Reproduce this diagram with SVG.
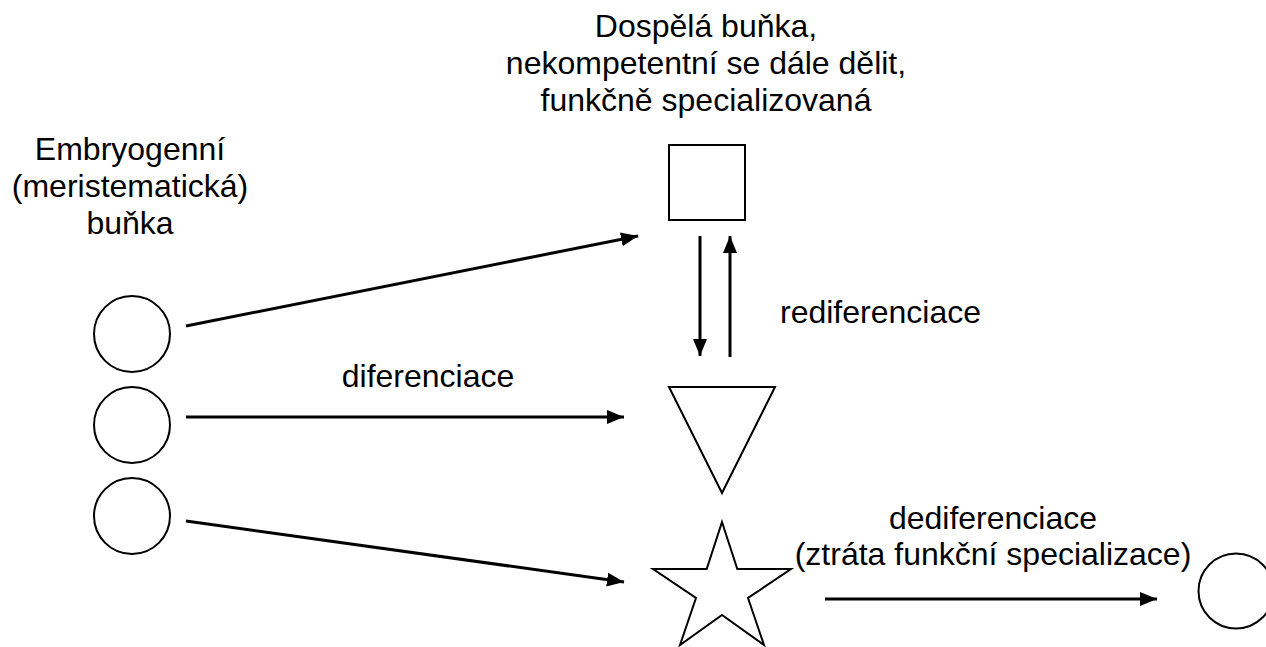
<svg xmlns="http://www.w3.org/2000/svg" width="1266" height="647" viewBox="0 0 1266 647">
<style>
.shape{fill:#fff;stroke:#000;stroke-width:2}
.conn{stroke:#000;stroke-width:3;fill:none;marker-end:url(#ah)}
text{font-family:"Liberation Sans",Arial,sans-serif;font-size:32px;fill:#000}
.m{text-anchor:middle}
</style>
<defs>
<marker id="ah" markerUnits="userSpaceOnUse" markerWidth="18" markerHeight="14" refX="17" refY="7" orient="auto">
<path d="M0,0 L17,7 L0,14 z" fill="#000"/>
</marker>
</defs>
<rect width="1266" height="647" fill="#fff"/>
<g id="embryo-label">
<text class="m" x="130" y="160">Embryogenní</text>
<text class="m" x="130" y="197">(meristematická)</text>
<text class="m" x="130" y="234">buňka</text>
</g>
<g id="mature-label">
<text class="m" x="706" y="37">Dospělá buňka,</text>
<text class="m" x="706" y="74">nekompetentní se dále dělit,</text>
<text class="m" x="706" y="111">funkčně specializovaná</text>
</g>
<g id="circle1"><circle class="shape" cx="132" cy="334" r="38"/></g>
<g id="circle2"><circle class="shape" cx="132" cy="425" r="38"/></g>
<g id="circle3"><circle class="shape" cx="132" cy="516" r="38"/></g>
<g id="square"><rect class="shape" x="669" y="145" width="76" height="75"/></g>
<g id="triangle"><polygon class="shape" points="669,387 775,387 722,493"/></g>
<g id="star"><polygon class="shape" points="722,522 737.3,569 791,569 748,598 764,645 722,615 680,645 696,598 653,569 706.7,569"/></g>
<g id="circle-right"><circle class="shape" cx="1236" cy="591" r="37.5"/></g>
<g id="connectors">
<line class="conn" x1="186" y1="326" x2="638" y2="236"/>
<line class="conn" x1="186" y1="417" x2="624" y2="417"/>
<line class="conn" x1="186" y1="521" x2="624" y2="582"/>
<line class="conn" x1="700" y1="236" x2="700" y2="356"/>
<line class="conn" x1="730" y1="357" x2="730" y2="236"/>
<line class="conn" x1="825" y1="599" x2="1157" y2="599"/>
</g>
<g id="labels">
<text class="m" x="428" y="387">diferenciace</text>
<text x="780" y="323">rediferenciace</text>
<text class="m" x="993" y="529">dediferenciace</text>
<text class="m" x="993" y="565">(ztráta funkční specializace)</text>
</g>
</svg>
